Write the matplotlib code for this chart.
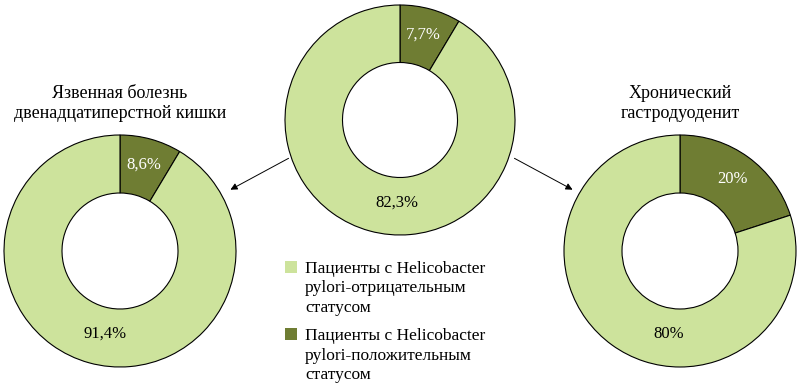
import matplotlib
matplotlib.use("Agg")
import numpy as np
import matplotlib.pyplot as plt
from matplotlib.patches import Rectangle

plt.rcParams['font.family'] = ['Liberation Serif', 'DejaVu Serif']

# data
titles = ['', 'Язвенная болезнь\nдвенадцатиперстной кишки', 'Хронический\nгастродуоденит']
positive = [7.7, 8.6, 20]
negative = [82.3, 91.4, 80]
pos_labels = ['7,7%', '8,6%', '20%']
neg_labels = ['82,3%', '91,4%', '80%']
legend_labels = ['Пациенты с Helicobacter\npylori-отрицательным\nстатусом',
                 'Пациенты с Helicobacter\npylori-положительным\nстатусом']

light = '#cde39c'
dark = '#6f7d33'

# layout in pixel units (y up)
H = 385
centers = [(400, H - 120), (120, H - 251), (680, H - 251)]
radii = [115, 116, 116]
neg_dx = [-3, -15, -11]

fig = plt.figure(figsize=(8, 3.85), dpi=100)
ax = fig.add_axes([0, 0, 1, 1])

for (cx, cy), r, dx, pos, neg, pl, nl, title in zip(centers, radii, neg_dx, positive,
                                                     negative, pos_labels, neg_labels, titles):
    wedges, _ = ax.pie([pos, neg], colors=[dark, light], startangle=90,
                       counterclock=False, center=(cx, cy), radius=r,
                       wedgeprops=dict(width=r * 0.5, edgecolor='black', linewidth=0.8))
    w = wedges[0]
    mid = np.deg2rad((w.theta1 + w.theta2) / 2)
    ax.text(cx + 0.77 * r * np.cos(mid), cy + 0.77 * r * np.sin(mid), pl,
            color='white', fontsize=12, ha='center', va='center')
    ax.text(cx + dx, cy - 83, nl, color='black', fontsize=12,
            ha='center', va='center')
    if title:
        for j, line in enumerate(title.split('\n')):
            ax.text(cx, H - 98 - j * 20, line, fontsize=13, ha='center', va='baseline')

# arrows from the total donut
arrow = dict(arrowstyle='-|>', color='black', lw=0.7, mutation_scale=10)
ax.annotate('', xy=(228, H - 191), xytext=(291, H - 157), arrowprops=arrow)
ax.annotate('', xy=(575, H - 191), xytext=(512, H - 157), arrowprops=arrow)

# legend
for i, (lab, col) in enumerate(zip(legend_labels, [light, dark])):
    base = 273 + i * 67
    ax.add_patch(Rectangle((285, H - base), 12, 12, facecolor=col, edgecolor='none'))
    for j, line in enumerate(lab.split('\n')):
        ax.text(305, H - base - j * 19.5, line, fontsize=12.5, ha='left', va='baseline')

ax.set_xlim(0, 800)
ax.set_ylim(0, H)
ax.set_aspect('equal')
ax.axis('off')

fig.savefig('out.png', dpi=100)
